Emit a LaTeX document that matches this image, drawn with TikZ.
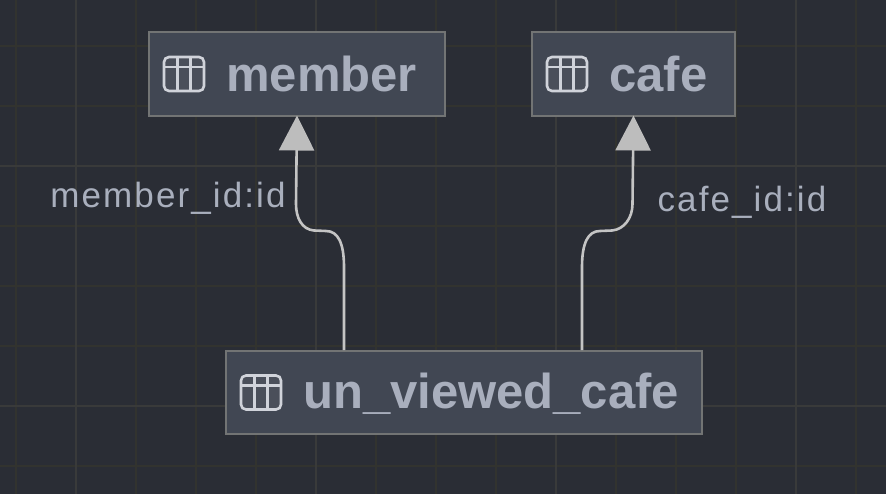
\documentclass[tikz,border=0pt]{standalone}
\usepackage{fontspec}
\setmainfont{Liberation Sans}
\usetikzlibrary{positioning,arrows.meta}
\definecolor{bgcol}{HTML}{2A2D35}
\definecolor{gridminor}{HTML}{32332F}
\definecolor{gridmajor}{HTML}{393A3A}
\definecolor{boxfill}{HTML}{414753}
\definecolor{boxline}{HTML}{727474}
\definecolor{titlecol}{HTML}{A9AFBD}
\definecolor{iconcol}{HTML}{D0D3DA}
\definecolor{linkcol}{HTML}{C4C4C4}
\definecolor{tipcol}{HTML}{BDBDBD}
\tikzset{
  tablebox/.style={draw=boxline, fill=boxfill, line width=2pt, inner sep=0pt, minimum height=84pt},
  tabletitle/.style={text=titlecol, inner sep=0pt, anchor=west, font=\fontsize{49}{54}\selectfont\bfseries},
  linklabel/.style={text=titlecol, inner sep=0pt, font=\fontsize{35}{40}\selectfont\addfontfeature{LetterSpace=6}},
  link/.style={draw=linkcol, line width=2.6pt, shorten >=-1.5pt, -{Triangle[width=35pt,length=35pt,color=tipcol]}},
  tableicon/.pic={
    \draw[iconcol, line width=2.6pt, rounded corners=5pt, fill=boxfill!85!gray] (0,-17) rectangle (40,17);
    \draw[iconcol, line width=2.6pt] (0,-7) -- (40,-7) (13.5,-17) -- (13.5,17) (26.5,-17) -- (26.5,17);
  }
}
\begin{document}
\begin{tikzpicture}[x=1pt, y=-1pt]
  \fill[bgcol] (0,0) rectangle (886,494);
  \useasboundingbox (0,0) rectangle (886,494);

  % grid
  \foreach \x in {16,136,196,256,376,436,496,616,676,736,856}
    \draw[gridminor, line width=1.5pt] (\x,0) -- (\x,494);
  \foreach \y in {46,106,226,286,346,466}
    \draw[gridminor, line width=1.5pt] (0,\y) -- (886,\y);
  \foreach \x in {76,316,556,796}
    \draw[gridmajor, line width=1.5pt] (\x,0) -- (\x,494);
  \foreach \y in {166,406}
    \draw[gridmajor, line width=1.5pt] (0,\y) -- (886,\y);

  % tables
  \node[tablebox, minimum width=296pt] (member) at (297,74) {};
  \pic at ([xshift=16pt]member.west) {tableicon};
  \node[tabletitle, right=78pt of member.west] (membertitle) {member};

  \node[tablebox, minimum width=203pt] (cafe) at (633.5,74) {};
  \pic at ([xshift=16pt]cafe.west) {tableicon};
  \node[tabletitle, right=78pt of cafe.west] (cafetitle) {cafe};

  \node[tablebox, minimum width=476pt, minimum height=83pt] (unviewed) at (464,392.5) {};
  \pic at ([xshift=16pt]unviewed.west) {tableicon};
  \node[tabletitle, right=78pt of unviewed.west, yshift=-1pt] (unviewedtitle) {un\_viewed\_cafe};

  % links
  \coordinate (memberfoot) at ([xshift=119pt]unviewed.north west);
  \coordinate (cafefoot) at ([xshift=357pt]unviewed.north west);
  \draw[link] (memberfoot) -- ++(0,-83) .. controls +(0,-24) and +(12,0) .. ++(-18,-36)
    -- ++(-12,-0.5) .. controls +(-12,-1) and +(0,14) .. ++(-18,-26.5) -- (member.south);
  \draw[link] (cafefoot) -- ++(0,-83) .. controls +(0,-24) and +(-12,0) .. ++(18,-36)
    -- ++(12,-0.5) .. controls +(12,-1) and +(0,14) .. ++(20.5,-26.5) -- (cafe.south);

  % labels
  \node[linklabel] (memberlabel) at (168,198) {member\_id:id};
  \node[linklabel] (cafelabel) at (742,202) {cafe\_id:id};
\end{tikzpicture}
\end{document}
